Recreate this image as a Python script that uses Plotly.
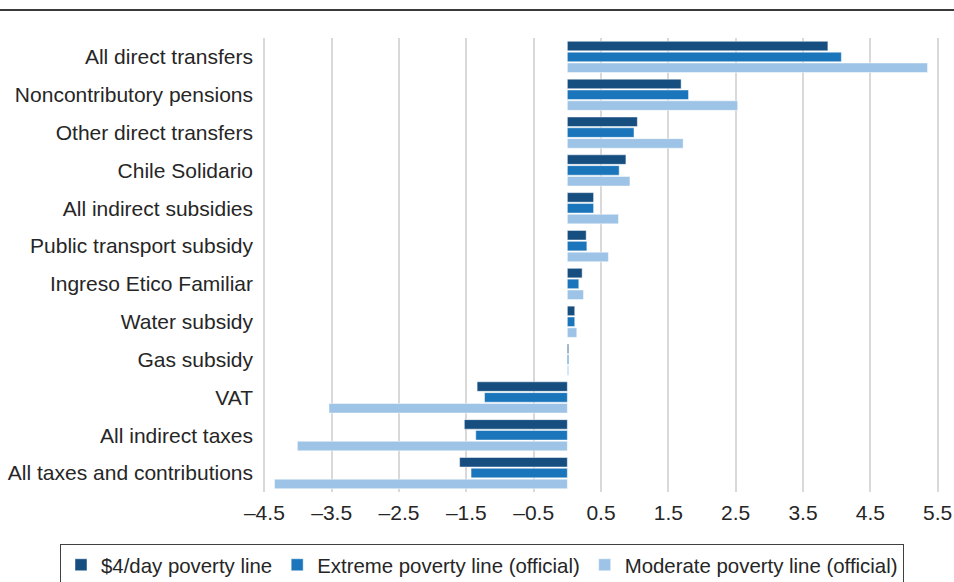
import plotly.graph_objects as go

categories = [
    "All direct transfers", "Noncontributory pensions", "Other direct transfers",
    "Chile Solidario", "All indirect subsidies", "Public transport subsidy",
    "Ingreso Etico Familiar", "Water subsidy", "Gas subsidy", "VAT",
    "All indirect taxes", "All taxes and contributions",
]
series_names = ["$4/day poverty line", "Extreme poverty line (official)",
                "Moderate poverty line (official)"]
poverty_4day = [3.87, 1.69, 1.04, 0.87, 0.39, 0.28, 0.22, 0.11, 0.02, -1.34, -1.53, -1.60]
extreme_official = [4.07, 1.80, 0.99, 0.77, 0.39, 0.29, 0.17, 0.11, 0.02, -1.23, -1.36, -1.43]
moderate_official = [5.35, 2.53, 1.72, 0.93, 0.76, 0.61, 0.24, 0.14, 0.02, -3.54, -4.01, -4.35]
tick_vals = [-4.5, -3.5, -2.5, -1.5, -0.5, 0.5, 1.5, 2.5, 3.5, 4.5, 5.5]
tick_text = ["–4.5", "–3.5", "–2.5", "–1.5", "–0.5", "0.5", "1.5", "2.5", "3.5", "4.5", "5.5"]

colors = ["#174e80", "#1a75bb", "#9dc3e6"]
values = [poverty_4day, extreme_official, moderate_official]

fig = go.Figure()
for name, vals, col in zip(series_names, values, colors):
    fig.add_trace(go.Bar(
        y=categories, x=vals, name=name, orientation="h",
        marker=dict(color=col, line=dict(color="rgba(255,255,255,0.6)", width=0.8)),
    ))

FONT = "Liberation Sans, Arial, sans-serif"
L, R, T, B = 261, 13, 38, 90
PLOT_W, PLOT_H = 954 - L - R, 582 - T - B
fig.update_layout(
    width=954, height=582,
    margin=dict(l=L, r=R, t=T, b=B, autoexpand=False),
    paper_bgcolor="white", plot_bgcolor="white",
    barmode="group", bargap=0.14, bargroupgap=0.12,
    font=dict(family=FONT, size=21, color="#262626"),
    xaxis=dict(range=[-4.55, 5.55], tickvals=tick_vals, ticktext=tick_text,
               showgrid=True, gridcolor="#d9d9d9", gridwidth=2,
               zeroline=False, showline=False, ticks="", automargin=False,
               ticklabelstandoff=6, tickfont=dict(size=21)),
    yaxis=dict(autorange="reversed", showgrid=False, zeroline=False,
               showline=False, ticks="", ticklabelstandoff=7, automargin=False,
               tickfont=dict(size=21)),
    legend=dict(orientation="h", x=(60 - L) / PLOT_W, xanchor="left",
                y=(582 - B - 544) / PLOT_H, yanchor="top",
                bordercolor="#404040", borderwidth=1, font=dict(size=20.4),
                traceorder="normal", itemwidth=30, tracegroupgap=0),
    showlegend=True,
    shapes=[dict(type="line", xref="paper", yref="paper", x0=-0.5, x1=1.1,
                 y0=(582 - B - 10) / PLOT_H, y1=(582 - B - 10) / PLOT_H,
                 line=dict(color="#3a3a3a", width=2))],
)

fig.write_html("out.html", config={"displayModeBar": False},
               post_script="document.body.style.margin='0';")
